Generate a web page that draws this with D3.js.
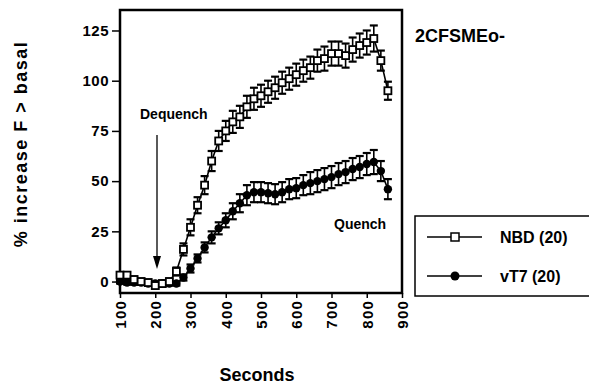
<!DOCTYPE html>
<html>
<head>
    <script type="text/javascript" src="https://d3js.org/d3.v7.min.js"></script>
    <style>
        body { margin: 0; background: white; }
        text { font-family: "Liberation Sans", Arial, Helvetica, sans-serif; font-weight: bold; fill: black; }
    </style>
</head>
<body>
    <script>
        var w = 589, h = 385

        // time points (seconds)
        var seconds = [100, 120, 140, 160, 180, 200, 220, 240, 260, 280, 300, 320, 340, 360, 380, 400,
            420, 440, 460, 480, 500, 520, 540, 560, 580, 600, 620, 640, 660, 680, 700, 720, 740, 760,
            780, 800, 820, 840, 860]

        var nbdValues = [3.2, 3.2, 1, 0, -0.5, -2, -1, 0, 5, 16, 27, 38, 48, 60, 70, 75,
            79.5, 82, 87, 91, 92.5, 94.5, 96.5, 99, 101, 103, 105, 106.5, 110, 111, 113.5, 113.5, 112.5, 115.5,
            117.5, 119, 121, 110, 95]
        var nbdErrors = [1.5, 1.5, 1.5, 1.5, 1.5, 1.5, 1.5, 1.5, 2, 3, 4, 4, 4.5, 5, 5, 5,
            5.5, 5.5, 5.5, 5.5, 5.5, 5.5, 5.5, 5.5, 5.5, 5.5, 5.5, 5.5, 5.5, 6, 6, 6, 6, 6,
            6, 6, 6.5, 5, 4.5]

        var vt7Values = [0, -0.5, -0.5, -0.5, -1, -1, -1, -1, -1, 2, 6.5, 11.5, 17, 22, 26.5, 30.5,
            35, 39, 43, 44.5, 44.5, 44, 43.5, 44.5, 46, 46.5, 48, 49, 50, 51, 52, 53.5, 54.5, 56,
            57, 58.5, 59.5, 55, 46]
        var vt7Errors = [1, 1, 1, 1, 1, 1, 1, 1, 1, 1.5, 2, 2, 2.5, 3, 3, 3.5,
            4, 4.5, 5, 5, 5, 5, 5, 5, 5, 5, 5, 5.5, 5.5, 5.5, 5.5, 5.5, 5.5, 5.5,
            5.5, 5.5, 6, 5, 5]

        var xTicks = [100, 200, 300, 400, 500, 600, 700, 800, 900]
        var yTicks = [0, 25, 50, 75, 100, 125]

        var nbd = seconds.map((s, i) => ({ s: s, v: nbdValues[i], e: nbdErrors[i] }))
        var vt7 = seconds.map((s, i) => ({ s: s, v: vt7Values[i], e: vt7Errors[i] }))

        var svg = d3.select('body').append('svg')
        svg.attr('width', w).attr('height', h)

        var plotLeft = 120, plotRight = 402, plotTop = 10, plotBottom = 293

        let xscale = d3.scaleLinear()
            .domain([100, 900])
            .range([plotLeft, plotRight])

        let yscale = d3.scaleLinear()
            .domain([-5.7, 135.2])
            .range([plotBottom, plotTop])

        // axes
        var yAxis = svg.append("g")
            .attr("transform", "translate(" + plotLeft + ",0)")
            .call(d3.axisLeft(yscale).tickValues(yTicks).tickSize(8).tickPadding(3))
        yAxis.select(".domain").remove()
        yAxis.selectAll("line").attr("stroke-width", 1.5)
        yAxis.selectAll("text").attr("font-size", 15).attr("letter-spacing", 0.5)
            .style("font-family", "'Liberation Sans', Arial, sans-serif").style("font-weight", "bold")

        var xAxis = svg.append("g")
            .attr("transform", "translate(0," + plotBottom + ")")
            .call(d3.axisBottom(xscale).tickValues(xTicks).tickSize(5))
        xAxis.select(".domain").remove()
        xAxis.selectAll("line").attr("stroke-width", 1.5)
        xAxis.selectAll("text")
            .attr("font-size", 15)
            .attr("letter-spacing", 1.2)
            .attr("transform", "rotate(-90)")
            .attr("x", -7)
            .attr("y", 0)
            .attr("dy", "0.36em")
            .style("text-anchor", "end")
            .style("font-family", "'Liberation Sans', Arial, sans-serif").style("font-weight", "bold")

        // frame
        svg.append("rect")
            .attr("x", plotLeft)
            .attr("y", plotTop)
            .attr("width", plotRight - plotLeft)
            .attr("height", plotBottom - plotTop)
            .attr("fill", "none")
            .attr("stroke", "black")
            .attr("stroke-width", 2.5)

        function errorBars(data) {
            var g = svg.append("g").attr("stroke", "black")
            g.selectAll(".bar").data(data).enter().append("line")
                .attr("x1", d => xscale(d.s)).attr("x2", d => xscale(d.s))
                .attr("y1", d => yscale(d.v - d.e)).attr("y2", d => yscale(d.v + d.e))
                .attr("stroke-width", 1.6)
            g.selectAll(".capTop").data(data).enter().append("line")
                .attr("x1", d => xscale(d.s) - 4).attr("x2", d => xscale(d.s) + 4)
                .attr("y1", d => yscale(d.v + d.e)).attr("y2", d => yscale(d.v + d.e))
                .attr("stroke-width", 2.2)
            g.selectAll(".capBottom").data(data).enter().append("line")
                .attr("x1", d => xscale(d.s) - 4).attr("x2", d => xscale(d.s) + 4)
                .attr("y1", d => yscale(d.v - d.e)).attr("y2", d => yscale(d.v - d.e))
                .attr("stroke-width", 2.2)
        }

        var line = d3.line().x(d => xscale(d.s)).y(d => yscale(d.v))

        // vT7 series (filled circles)
        errorBars(vt7)
        svg.append("path")
            .datum(vt7)
            .attr("d", line)
            .attr("fill", "none")
            .attr("stroke", "black")
            .attr("stroke-width", 1.6)
        svg.selectAll(".vt7").data(vt7).enter().append("circle")
            .attr("cx", d => xscale(d.s))
            .attr("cy", d => yscale(d.v))
            .attr("r", 4.2)
            .attr("fill", "black")

        // NBD series (open squares)
        errorBars(nbd)
        svg.append("path")
            .datum(nbd)
            .attr("d", line)
            .attr("fill", "none")
            .attr("stroke", "black")
            .attr("stroke-width", 1.6)
        svg.selectAll(".nbd").data(nbd).enter().append("rect")
            .attr("x", d => xscale(d.s) - 3.5)
            .attr("y", d => yscale(d.v) - 3.5)
            .attr("width", 7)
            .attr("height", 7)
            .attr("fill", "white")
            .attr("stroke", "black")
            .attr("stroke-width", 1.8)

        // annotations
        svg.append("text")
            .attr("x", 140)
            .attr("y", 119)
            .attr("font-size", 14)
            .text("Dequench")

        svg.append("line")
            .attr("x1", 157).attr("x2", 157)
            .attr("y1", 135).attr("y2", 258)
            .attr("stroke", "black")
            .attr("stroke-width", 1.3)
        svg.append("path")
            .attr("d", "M153,256 L157,269 L161,256 Z")
            .attr("fill", "black")

        svg.append("text")
            .attr("x", 334)
            .attr("y", 229)
            .attr("font-size", 14)
            .text("Quench")

        svg.append("text")
            .attr("x", 415)
            .attr("y", 42)
            .attr("font-size", 18)
            .text("2CFSMEo-")

        // axis titles
        svg.append("text")
            .attr("transform", "translate(27,144) rotate(-90)")
            .attr("font-size", 18)
            .attr("letter-spacing", 1.5)
            .style("text-anchor", "middle")
            .text("% increase F > basal")

        svg.append("text")
            .attr("x", 257)
            .attr("y", 381)
            .attr("font-size", 18)
            .style("text-anchor", "middle")
            .text("Seconds")

        // legend
        svg.append("rect")
            .attr("x", 415)
            .attr("y", 216)
            .attr("width", 200)
            .attr("height", 80)
            .attr("fill", "white")
            .attr("stroke", "black")
            .attr("stroke-width", 1.5)

        svg.append("line")
            .attr("x1", 427).attr("x2", 482)
            .attr("y1", 237).attr("y2", 237)
            .attr("stroke", "black").attr("stroke-width", 1.3)
        svg.append("rect")
            .attr("x", 451).attr("y", 233)
            .attr("width", 8).attr("height", 8)
            .attr("fill", "white").attr("stroke", "black").attr("stroke-width", 1.5)
        svg.append("text")
            .attr("x", 500)
            .attr("y", 243)
            .attr("font-size", 16)
            .text("NBD (20)")

        svg.append("line")
            .attr("x1", 427).attr("x2", 482)
            .attr("y1", 276).attr("y2", 276)
            .attr("stroke", "black").attr("stroke-width", 1.3)
        svg.append("circle")
            .attr("cx", 455).attr("cy", 276)
            .attr("r", 4.5)
            .attr("fill", "black")
        svg.append("text")
            .attr("x", 500)
            .attr("y", 282)
            .attr("font-size", 16)
            .text("vT7 (20)")
    </script>
</body>
</html>
